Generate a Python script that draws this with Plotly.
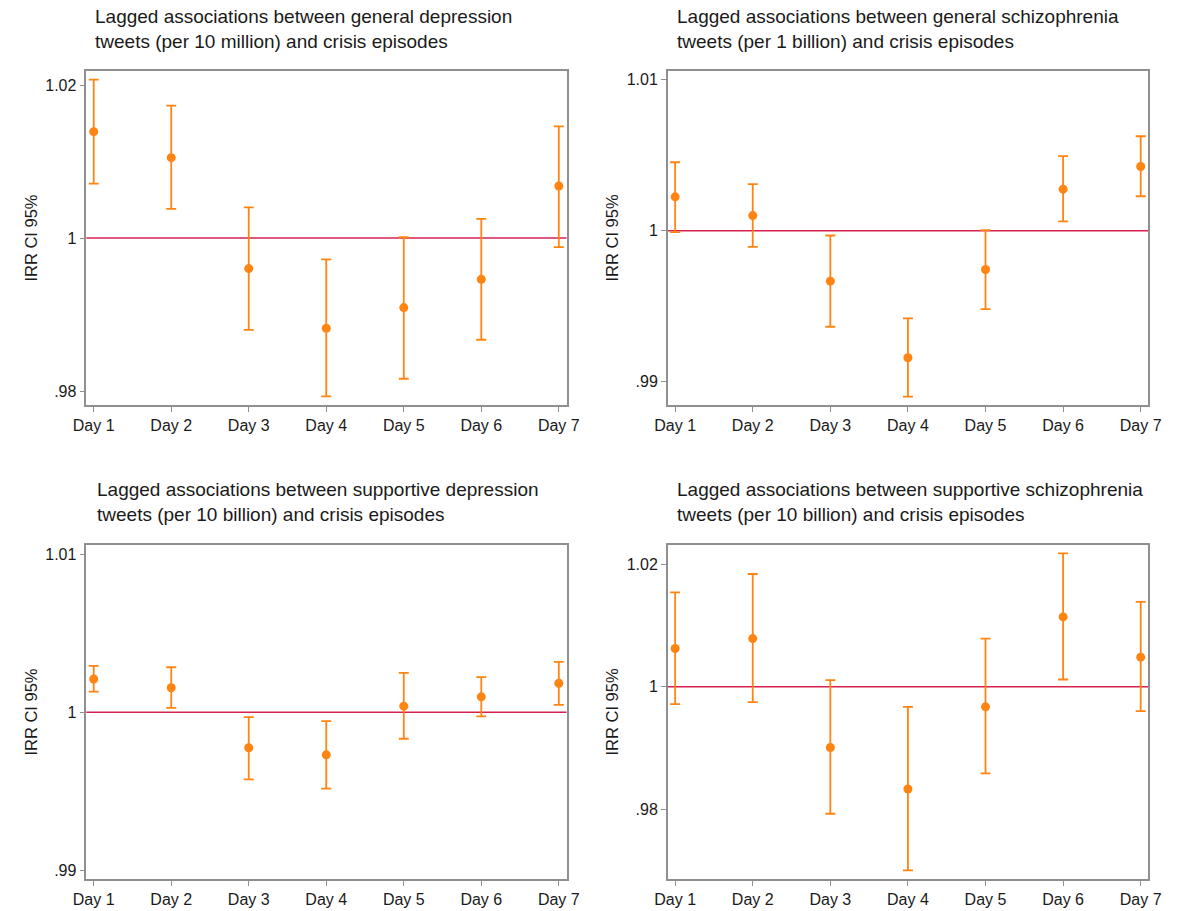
import plotly.graph_objects as go

W, H = 1182, 911

days = ["Day 1", "Day 2", "Day 3", "Day 4", "Day 5", "Day 6", "Day 7"]

# Panel 1: general depression tweets (per 10 million)
gd_irr = [1.0139, 1.0105, 0.9960, 0.9882, 0.9909, 0.9946, 1.0068]
gd_lo = [1.0071, 1.0038, 0.9880, 0.9793, 0.9816, 0.9867, 0.9988]
gd_hi = [1.0207, 1.0173, 1.0040, 0.9972, 1.0001, 1.0025, 1.0146]

# Panel 2: general schizophrenia tweets (per 1 billion)
gs_irr = [1.00225, 1.00101, 0.99667, 0.99160, 0.99744, 1.00276, 1.00426]
gs_lo = [0.99991, 0.99894, 0.99365, 0.98902, 0.99482, 1.00062, 1.00229]
gs_hi = [1.00454, 1.00309, 0.99969, 0.99420, 1.00004, 1.00494, 1.00626]

# Panel 3: supportive depression tweets (per 10 billion)
sd_irr = [1.00210, 1.00154, 0.99775, 0.99730, 1.00038, 1.00097, 1.00183]
sd_lo = [1.00130, 1.00027, 0.99575, 0.99516, 0.99832, 0.99973, 1.00046]
sd_hi = [1.00293, 1.00284, 0.99968, 0.99943, 1.00248, 1.00221, 1.00318]

# Panel 4: supportive schizophrenia tweets (per 10 billion)
ss_irr = [1.00625, 1.00788, 0.99011, 0.98332, 0.99674, 1.01141, 1.00484]
ss_lo = [0.99717, 0.99750, 0.97929, 0.97005, 0.98587, 1.00120, 0.99603]
ss_hi = [1.01543, 1.01842, 1.00109, 0.99674, 1.00788, 1.02179, 1.01386]

titles = [
    "Lagged associations between general depression<br>tweets (per 10 million) and crisis episodes",
    "Lagged associations between general schizophrenia<br>tweets (per 1 billion) and crisis episodes",
    "Lagged associations between supportive depression<br>tweets (per 10 billion) and crisis episodes",
    "Lagged associations between supportive schizophrenia<br>tweets (per 10 billion) and crisis episodes",
]
y_tickvals = [[0.98, 1.0, 1.02], [0.99, 1.0, 1.01], [0.99, 1.0, 1.01], [0.98, 1.0, 1.02]]
y_ticktext = [[".98", "1", "1.02"], [".99", "1", "1.01"], [".99", "1", "1.01"], [".98", "1", "1.02"]]
y_ranges = [[0.97817, 1.02183], [0.98847, 1.01058], [0.98945, 1.01057], [0.96864, 1.02315]]

series = [(gd_irr, gd_lo, gd_hi), (gs_irr, gs_lo, gs_hi), (sd_irr, sd_lo, sd_hi), (ss_irr, ss_lo, ss_hi)]

# pixel boxes: (left, right, top, bottom)
boxes = [(75, 566, 71, 405), (669.5, 1161, 71, 405), (75, 566, 545, 879), (669.5, 1161, 545, 879)]
title_pos = [(82, 4), (677, 4), (84, 477), (677, 477)]
ylab_x = [18, 612, 18, 612]

ORANGE = "#ff8412"
REDLINE = "#d6204f"
AXIS = "#8f8f8f"
TXT = "#1a1a1a"
FONT = "Liberation Sans, Arial, sans-serif"

fig = go.Figure()
annotations = []
shapes = []
for i, ((irr, lo, hi), (l, r, t, b)) in enumerate(zip(series, boxes)):
    n = "" if i == 0 else str(i + 1)
    xa, ya = "x" + n, "y" + n
    fig.add_trace(go.Scatter(
        x=days, y=irr, mode="markers", xaxis=xa, yaxis=ya,
        marker=dict(color=ORANGE, size=9),
        error_y=dict(type="data", symmetric=False,
                     array=[h - v for h, v in zip(hi, irr)],
                     arrayminus=[v - lo_ for v, lo_ in zip(irr, lo)],
                     color=ORANGE, thickness=1.8, width=5),
        showlegend=False,
    ))
    dom_x = [l / W, r / W]
    dom_y = [1 - b / H, 1 - t / H]
    fig.layout["xaxis" + n] = dict(
        domain=dom_x, anchor=ya, type="category", range=[-0.095, 6.1],
        showline=True, linecolor=AXIS, linewidth=1.5, mirror=True,
        ticks="outside", ticklen=5, tickcolor=AXIS, tickwidth=1,
        showgrid=False, zeroline=False,
        tickfont=dict(family=FONT, size=16, color=TXT),
    )
    fig.layout["yaxis" + n] = dict(
        domain=dom_y, anchor=xa, range=y_ranges[i],
        tickvals=y_tickvals[i], ticktext=y_ticktext[i],
        showline=True, linecolor=AXIS, linewidth=1.5, mirror=True,
        ticks="outside", ticklen=5, tickcolor=AXIS, tickwidth=1,
        showgrid=False, zeroline=False,
        tickfont=dict(family=FONT, size=16, color=TXT),
    )
    shapes.append(dict(type="line", xref=xa + " domain", yref=ya, x0=0, x1=1, y0=1, y1=1,
                       line=dict(color=REDLINE, width=1.5), layer="below"))
    tx, ty = title_pos[i]
    annotations.append(dict(text=titles[i], xref="paper", yref="paper", x=tx / W, y=1 - ty / H,
                            xanchor="left", yanchor="top", align="left", showarrow=False,
                            font=dict(family=FONT, size=19, color=TXT)))
    annotations.append(dict(text="IRR CI 95%", xref="paper", yref="paper", x=ylab_x[i] / W,
                            y=1 - (t + b) / 2 / H, xanchor="center", yanchor="middle",
                            textangle=-90, showarrow=False,
                            font=dict(family=FONT, size=16.5, color=TXT)))

fig.update_layout(
    width=W, height=H, margin=dict(l=0, r=0, t=0, b=0),
    paper_bgcolor="white", plot_bgcolor="white",
    annotations=annotations, shapes=shapes,
)
fig.write_html("out.html")
